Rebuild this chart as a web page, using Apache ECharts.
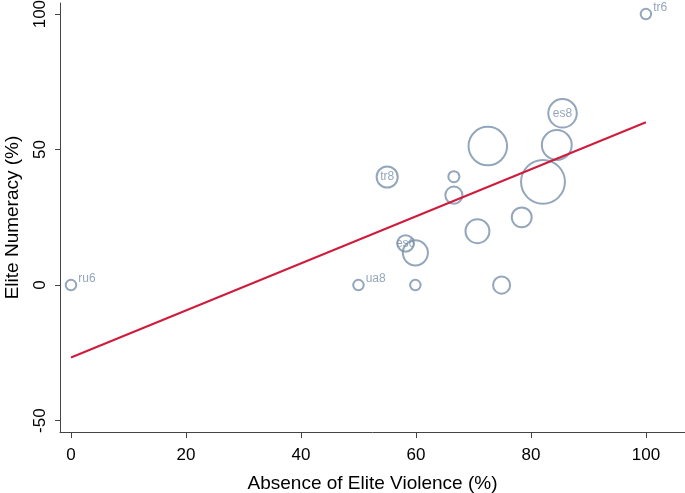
<!DOCTYPE html>
<html>
<head>
<meta charset="utf-8">
<script src="https://cdn.jsdelivr.net/npm/echarts@6/dist/echarts.min.js"></script>
<style>
html,body{margin:0;padding:0;background:#fff;}
#chart{width:685px;height:493px;}
</style>
</head>
<body>
<div id="chart"></div>
<script>
// Data
const pointNames = ['ru6','tr6','ua8','','','es6','','','','','','tr8','','','','es8'];
const xValues   = [0, 100, 50, 59.9, 74.9, 58.2, 59.9, 70.7, 78.4, 66.6, 66.6, 55, 82.1, 84.5, 72.5, 85.5];
const yValues   = [0, 100, 0, 0, 0, 15.4, 11.9, 19.9, 25, 33.2, 40, 39.9, 38.1, 51.7, 51.3, 63.4];
const weights   = [6, 6, 6, 6, 9.3, 9, 13.3, 12.7, 10.7, 9.3, 6.3, 11.3, 22.7, 15.7, 20, 15];
const fitX = [0, 100];
const fitY = [-26.7, 60.1];
const xTicks = [0, 20, 40, 60, 80, 100];
const yTicks = [-50, 0, 50, 100];
const xTitle = 'Absence of Elite Violence (%)';
const yTitle = 'Elite Numeracy (%)';

const FONT = "'Liberation Sans', Arial, Helvetica, sans-serif";
const MARK = '#7890aa';
const FIT = '#d01c3c';

const scatterData = xValues.map((x, i) => {
  const d = weights[i] * 2 - 1.5;
  const name = pointNames[i];
  const item = { name: name, value: [x, yValues[i]], symbolSize: d };
  if (name) {
    if (weights[i] < 7) {
      item.label = { show: true, position: 'right', distance: 1, offset: [0, -6] };
    } else {
      item.label = { show: true, position: 'inside' };
    }
  }
  return item;
});

const chart = echarts.init(document.getElementById('chart'), null, { renderer: 'canvas' });
chart.setOption({
  animation: false,
  backgroundColor: '#fff',
  textStyle: { fontFamily: FONT },
  grid: { left: 60, right: 0, top: 3, bottom: 61, containLabel: false, outerBoundsMode: 'none' },
  xAxis: {
    type: 'value',
    min: -1.91, max: 106.8,
    name: xTitle, nameLocation: 'middle', nameGap: 42,
    nameTextStyle: { fontSize: 19, color: '#000', fontFamily: FONT },
    axisLine: { show: true, onZero: false, lineStyle: { color: '#444', width: 1 } },
    axisTick: { show: true, length: 6, customValues: xTicks, lineStyle: { color: '#444' } },
    axisLabel: { customValues: xTicks, fontSize: 17, color: '#000', margin: 15, fontFamily: FONT },
    splitLine: { show: false }
  },
  yAxis: {
    type: 'value',
    min: -54.2, max: 104.1,
    name: yTitle, nameLocation: 'middle', nameGap: 38,
    nameTextStyle: { fontSize: 19, color: '#000', fontFamily: FONT },
    axisLine: { show: true, onZero: false, lineStyle: { color: '#444', width: 1 } },
    axisTick: { show: true, length: 5, customValues: yTicks, lineStyle: { color: '#444' } },
    axisLabel: { customValues: yTicks, rotate: 90, fontSize: 17, color: '#000', margin: 11, fontFamily: FONT },
    splitLine: { show: false }
  },
  series: [
    {
      type: 'scatter',
      data: scatterData,
      symbol: 'circle',
      itemStyle: { color: 'rgba(0,0,0,0)', borderColor: MARK, borderWidth: 2 },
      label: { show: false, formatter: '{b}', color: MARK, fontSize: 12, fontFamily: FONT },
      emphasis: { disabled: true },
      z: 2
    },
    {
      type: 'line',
      data: fitX.map((x, i) => [x, fitY[i]]),
      symbol: 'none',
      lineStyle: { color: FIT, width: 2 },
      emphasis: { disabled: true },
      z: 3
    }
  ]
});
</script>
</body>
</html>
